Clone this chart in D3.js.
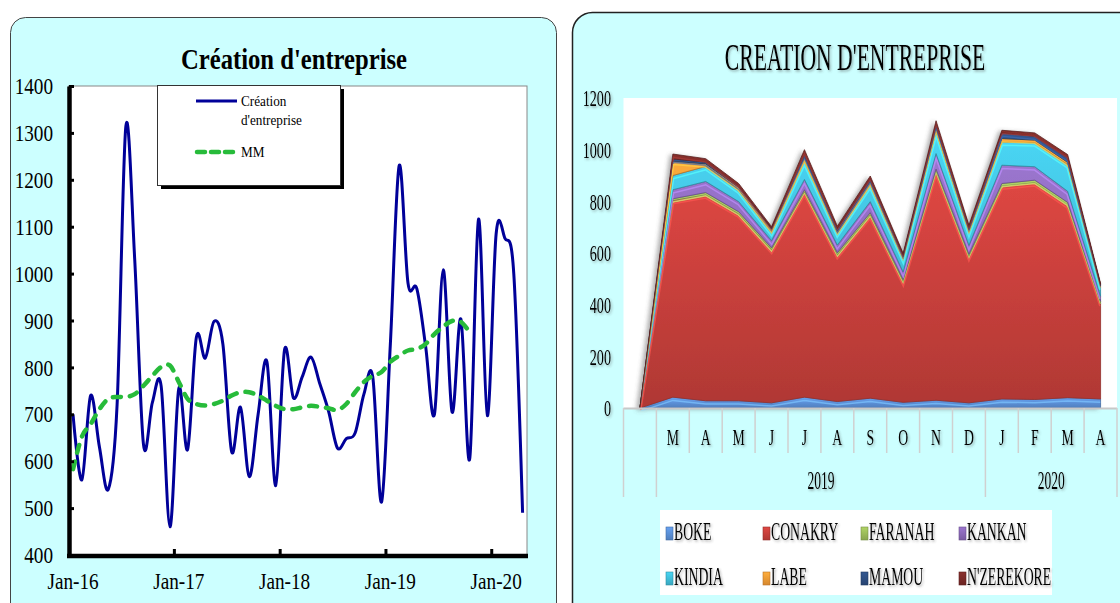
<!DOCTYPE html>
<html>
<head>
<meta charset="utf-8">
<script src="https://cdn.jsdelivr.net/npm/d3@7"></script>
<style>
  body { margin: 0; background: #fff; }
  svg { display: block; font-family: "Liberation Serif", "DejaVu Serif", serif; }
</style>
</head>
<body>
<svg id="chart" width="1120" height="603"></svg>
<script>
// ---------- data: left chart (monthly, Jan-16 .. Apr-20) ----------
const startMonth = new Date(2016, 0, 1);
const endMonth = new Date(2020, 4, 1);
const yearTicks = ['Jan-16', 'Jan-17', 'Jan-18', 'Jan-19', 'Jan-20'];
const creation = [700, 560, 740, 630, 540, 720, 1315, 1030, 635, 725, 760, 460,
                  755, 625, 865, 820, 898, 850, 620, 715, 567, 700, 812, 548,
                  838, 735, 780, 822, 765, 706, 628, 648, 660, 743, 780, 513,
                  850, 1230, 980, 968, 845, 700, 1008, 705, 903, 605, 1116, 697,
                  1085, 1075, 1000, 490];
const mm = [583, 652, 679, 711, 733, 737, 737, 743, 761, 782, 801, 804,
            769, 733, 722, 719, 722, 729, 740, 747, 747, 740, 729, 718,
            711, 711, 715, 718, 716, 713, 709, 722, 747, 769, 782, 790,
            812, 825, 836, 839, 850, 871, 887, 899, 897, 875];
const leftTicks = [400, 500, 600, 700, 800, 900, 1000, 1100, 1200, 1300, 1400];

// ---------- data: right chart (stacked by region) ----------
const monthLetters = ['', 'M', 'A', 'M', 'J', 'J', 'A', 'S', 'O', 'N', 'D', 'J', 'F', 'M', 'A'];
const yearLabels = ['', '2019', '2020'];
const yearSpans = [1, 10, 4];
const regions = ['BOKE', 'CONAKRY', 'FARANAH', 'KANKAN', 'KINDIA', 'LABE', 'MAMOU', "N'ZEREKORE"];
const boke      = [0, 42, 28, 28, 20, 42, 25, 38, 22, 30, 20, 35, 33, 40, 35];
const conakry   = [0, 761, 797, 723, 592, 795, 567, 709, 467, 885, 566, 824, 839, 746, 370];
const faranah   = [0, 7, 9, 9, 8, 8, 9, 9, 8, 10, 9, 10, 10, 10, 8];
const kankan    = [0, 35, 43, 39, 28, 40, 30, 43, 30, 60, 35, 71, 52, 43, 20];
const kindia    = [0, 55, 58, 45, 32, 70, 45, 65, 50, 85, 50, 90, 93, 103, 35];
const labe      = [0, 55, 10, 10, 12, 15, 8, 12, 8, 15, 10, 13, 10, 9, 5];
const mamou     = [0, 9, 7, 5, 4, 12, 10, 10, 6, 12, 8, 22, 15, 17, 5];
const nzerekore = [0, 19, 13, 10, 6, 18, 10, 12, 8, 15, 10, 10, 13, 13, 5];
const rightTicks = [0, 200, 400, 600, 800, 1000, 1200];
const regionColors = ['#5b8fd6', '#c63f3b', '#9bbb59', '#8a68b8', '#40bdd8', '#f39a35', '#2c4d80', '#7a2a28'];

const svg = d3.select('#chart');
const defs = svg.append('defs');

// condensed text helper (the original uses a narrow serif face)
function label(parent, x, y, str, size, k, anchor, weight) {
    return parent.append('text')
        .attr('transform', `translate(${x},${y}) scale(${k},1)`)
        .attr('text-anchor', anchor || 'middle')
        .style('font-size', size + 'px')
        .style('font-weight', weight || 'normal')
        .text(str);
}
function squeeze(sel, k) {
    sel.attr('x', function() { return (+this.getAttribute('x') || 0) / k; })
       .attr('transform', `scale(${k},1)`);
}

// filters
const ts = defs.append('filter').attr('id', 'tshadow').attr('x', '-10%').attr('y', '-20%').attr('width', '130%').attr('height', '150%');
ts.append('feDropShadow').attr('dx', 1.2).attr('dy', 1.5).attr('stdDeviation', 0.8)
  .attr('flood-color', '#444').attr('flood-opacity', 0.45);
const as = defs.append('filter').attr('id', 'ashadow').attr('x', '-10%').attr('y', '-10%').attr('width', '120%').attr('height', '120%');
as.append('feDropShadow').attr('dx', -3).attr('dy', 1).attr('stdDeviation', 2)
  .attr('flood-color', '#555').attr('flood-opacity', 0.45);

// ================= LEFT PANEL =================
svg.append('rect')
    .attr('x', 10.5).attr('y', 17.5).attr('width', 546).attr('height', 620)
    .attr('rx', 15).attr('fill', '#ccffff').attr('stroke', '#444').attr('stroke-width', 1);

const months = d3.timeMonth.range(startMonth, endMonth);
const xL = d3.scaleBand().domain(months).range([68.6, 527]);
const yL = d3.scaleLinear().domain([400, 1400]).range([555, 86]);
const cx = d => xL(d) + xL.bandwidth() / 2;

const gL = svg.append('g');
gL.append('rect')
    .attr('x', 68.6).attr('y', 86).attr('width', 527 - 68.6).attr('height', 555 - 86)
    .attr('fill', '#fff').attr('stroke', '#888').attr('stroke-width', 1);

label(gL, 294, 69, "Création d'entreprise", 29, 0.85, 'middle', 'bold');

// lines
const lineL = d3.line().x((d, i) => cx(months[i])).y(d => yL(d)).curve(d3.curveCatmullRom.alpha(0));
gL.append('path').datum(creation)
    .attr('d', lineL).attr('fill', 'none')
    .attr('stroke', '#000099').attr('stroke-width', 3).attr('stroke-linejoin', 'round');
gL.append('path').datum(mm)
    .attr('d', lineL).attr('fill', 'none')
    .attr('stroke', '#27bb3a').attr('stroke-width', 4.5)
    .attr('stroke-dasharray', '8,9').attr('stroke-linecap', 'round');

// y axis
const yAxisL = d3.axisLeft(yL).tickValues(leftTicks).tickFormat(d3.format('d'))
    .tickSizeInner(-5).tickSizeOuter(0).tickPadding(16);
const gYL = gL.append('g').attr('transform', 'translate(69,0)').call(yAxisL);
gYL.select('.domain').attr('stroke', '#000').attr('stroke-width', 4.5);
gYL.selectAll('.tick line').attr('stroke', '#000').attr('stroke-width', 3);
gYL.selectAll('text').style('font-size', '24px').style('font-family', '"Liberation Serif", serif').attr('fill', '#000');
squeeze(gYL.selectAll('text'), 0.8);

// x axis
const xAxisL = d3.axisBottom(xL)
    .tickValues(months.filter((m, i) => i % 12 === 0))
    .tickFormat((d, i) => yearTicks[i])
    .tickSize(0).tickPadding(17);
const gXL = gL.append('g').attr('transform', 'translate(0,555)').call(xAxisL);
gXL.select('.domain').remove();
gXL.selectAll('text').style('font-size', '24px').style('font-family', '"Liberation Serif", serif').attr('fill', '#000');
squeeze(gXL.selectAll('text'), 0.8);
gL.append('line').attr('x1', 67).attr('x2', 528).attr('y1', 556).attr('y2', 556)
    .attr('stroke', '#000').attr('stroke-width', 4.5);
gL.selectAll('.yeartick')
    .data(months.filter((m, i) => i > 0 && i % 12 === 0))
    .enter().append('line')
    .attr('x1', d => xL(d)).attr('x2', d => xL(d))
    .attr('y1', 556).attr('y2', 549)
    .attr('stroke', '#000').attr('stroke-width', 3);

// legend
const lg = gL.append('g');
lg.append('rect').attr('x', 161).attr('y', 89).attr('width', 183).attr('height', 100).attr('fill', '#000');
lg.append('rect').attr('x', 157.5).attr('y', 85.5).attr('width', 183).attr('height', 100)
    .attr('fill', '#fff').attr('stroke', '#333').attr('stroke-width', 1);
lg.append('line').attr('x1', 196).attr('x2', 237).attr('y1', 101).attr('y2', 101)
    .attr('stroke', '#000099').attr('stroke-width', 3);
lg.append('line').attr('x1', 197).attr('x2', 237).attr('y1', 152).attr('y2', 152)
    .attr('stroke', '#27bb3a').attr('stroke-width', 4.5).attr('stroke-dasharray', '8,6').attr('stroke-linecap', 'round');
label(lg, 241, 106, 'Création', 15, 0.88, 'start');
label(lg, 241, 125, "d'entreprise", 15, 0.88, 'start');
label(lg, 241, 157, 'MM', 15, 0.88, 'start');

// ================= RIGHT PANEL =================
svg.append('rect')
    .attr('x', 572.5).attr('y', 12.5).attr('width', 580).attr('height', 620)
    .attr('rx', 20).attr('fill', '#ccffff').attr('stroke', '#222').attr('stroke-width', 1.5);

const gR = svg.append('g');
const xR = d3.scaleBand().domain(d3.range(monthLetters.length)).range([623.5, 1117]);
const yR = d3.scaleLinear().domain([0, 1200]).range([408, 98]);
const cxR = i => xR(i) + xR.bandwidth() / 2;

gR.append('rect').attr('x', 623.5).attr('y', 98).attr('width', 1117 - 623.5).attr('height', 310).attr('fill', '#fff');

const tR = gR.append('g').attr('filter', 'url(#tshadow)');
label(tR, 855, 70, "CREATION D'ENTREPRISE", 39, 0.555, 'middle');

// stacked data
const series = [boke, conakry, faranah, kankan, kindia, labe, mamou, nzerekore];
const table = monthLetters.map((m, k) => {
    const row = { k: k };
    regions.forEach((r, j) => { row[r] = series[j][k]; });
    return row;
});
const stacked = d3.stack().keys(regions)(table);

regions.forEach((r, j) => {
    const c = d3.color(regionColors[j]);
    const gr = defs.append('linearGradient').attr('id', 'grad' + j)
        .attr('x1', 0).attr('y1', 0).attr('x2', 0).attr('y2', 1);
    gr.append('stop').attr('offset', '0%').attr('stop-color', c.brighter(0.35));
    gr.append('stop').attr('offset', '100%').attr('stop-color', c.darker(0.35));
});

const area = d3.area().x(d => cxR(d.data.k)).y0(d => yR(d[0])).y1(d => yR(d[1]));
const topLine = d3.line().x(d => cxR(d.data.k)).y(d => yR(d[1]));

const gA = gR.append('g').attr('filter', 'url(#ashadow)');
stacked.forEach((s, j) => {
    defs.append('clipPath').attr('id', 'clip' + j).append('path').attr('d', area(s));
});
gA.selectAll('.layer').data(stacked).enter().append('path')
    .attr('class', 'layer')
    .attr('d', area)
    .attr('fill', (d, j) => `url(#grad${j})`)
    .attr('stroke', (d, j) => d3.color(regionColors[j]).darker(0.8))
    .attr('stroke-width', 0.8)
    .attr('stroke-linejoin', 'round');
// bevel highlight along top of each layer
gA.selectAll('.bevel').data(stacked).enter().append('path')
    .attr('class', 'bevel')
    .attr('d', topLine)
    .attr('clip-path', (d, j) => `url(#clip${j})`)
    .attr('transform', 'translate(0,2.5)')
    .attr('fill', 'none')
    .attr('stroke', (d, j) => d3.color(regionColors[j]).brighter(0.9))
    .attr('stroke-width', 3)
    .attr('stroke-opacity', 0.7);

// y axis (labels only)
const yAxisR = d3.axisLeft(yR).tickValues(rightTicks).tickFormat(d3.format('d')).tickSize(0).tickPadding(12.5);
const gYR = gR.append('g').attr('transform', 'translate(623.5,0)').attr('filter', 'url(#tshadow)').call(yAxisR);
gYR.select('.domain').remove();
gYR.selectAll('text').style('font-size', '24px').style('font-family', '"Liberation Serif", serif').attr('fill', '#000');
squeeze(gYR.selectAll('text'), 0.59);

// category axis table
const gC = gR.append('g');
gC.append('line').attr('x1', 623.5).attr('x2', 1117).attr('y1', 408.5).attr('y2', 408.5)
    .attr('stroke', '#c8c8c8').attr('stroke-width', 2);
const groupStarts = yearSpans.map((s, i) => d3.sum(yearSpans.slice(0, i)));
const edges = d3.range(monthLetters.length + 1);
gC.selectAll('.sep').data(edges).enter().append('line')
    .attr('x1', k => k < monthLetters.length ? xR(k) : xR(k - 1) + xR.bandwidth())
    .attr('x2', k => k < monthLetters.length ? xR(k) : xR(k - 1) + xR.bandwidth())
    .attr('y1', 408)
    .attr('y2', k => (groupStarts.includes(k) || k === monthLetters.length) ? 497 : 453)
    .attr('stroke', '#d0d0d0').attr('stroke-width', 1.5);
const tC = gC.append('g').attr('filter', 'url(#tshadow)');
monthLetters.forEach((m, k) => { if (m) label(tC, cxR(k), 445, m, 23, 0.6, 'middle'); });
yearLabels.forEach((y, i) => {
    if (!y) return;
    const a = xR(groupStarts[i]);
    const b = xR(groupStarts[i] + yearSpans[i] - 1) + xR.bandwidth();
    label(tC, (a + b) / 2, 489, y, 26, 0.52, 'middle');
});

// legend
const lgR = gR.append('g');
lgR.append('rect').attr('x', 660).attr('y', 510).attr('width', 392).attr('height', 85).attr('fill', '#fff');
const colX = [666, 763, 861, 959];
const rowY = [527, 572];
regions.forEach((r, j) => {
    const x = colX[j % 4], y = rowY[Math.floor(j / 4)];
    lgR.append('rect').attr('x', x).attr('y', y).attr('width', 7).attr('height', 13)
        .attr('fill', `url(#grad${j})`).attr('stroke', d3.color(regionColors[j]).darker(0.8)).attr('stroke-width', 0.6);
    label(lgR.append('g').attr('filter', 'url(#tshadow)'), x + 8, y + 13, r, 25, 0.55, 'start');
});
</script>
</body>
</html>
